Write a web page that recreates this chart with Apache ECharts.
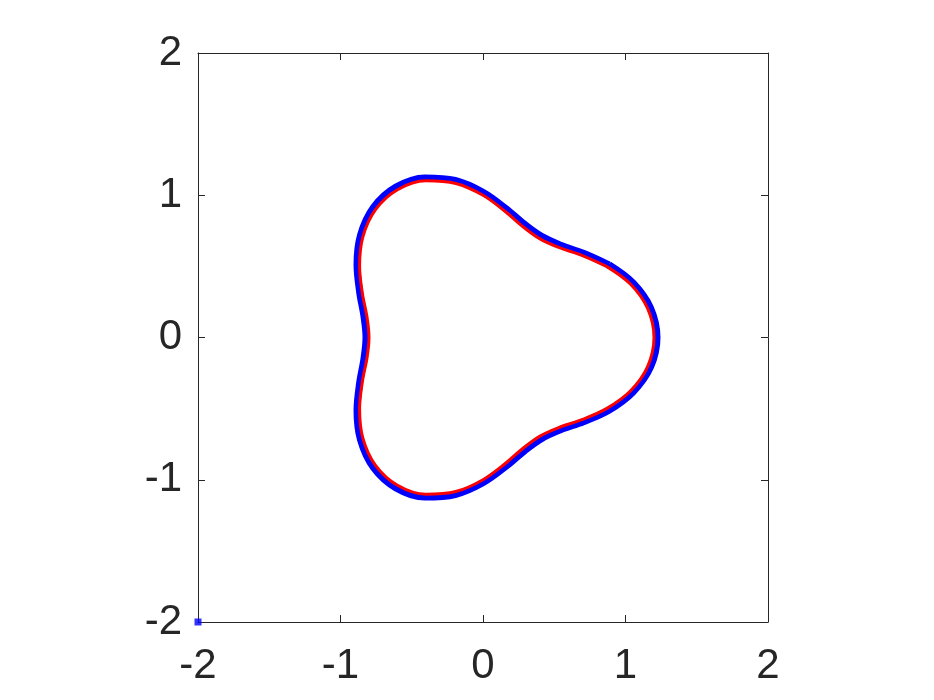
<!DOCTYPE html>
<html>
<head>
<meta charset="utf-8">
<script src="https://cdn.jsdelivr.net/npm/echarts@6/dist/echarts.min.js"></script>
<style>
  html, body { margin: 0; padding: 0; background: #ffffff; }
  #curveChart { width: 934px; height: 700px; }
</style>
</head>
<body>
<div id="curveChart"></div>
<script>
// red contour (every 10 degrees, starting at 30 deg)
const curveX = [0.866, 0.689, 0.531, 0.400, 0.283, 0.156, 0,
  -0.191, -0.401, -0.600, -0.754, -0.843, -0.866, -0.846, -0.814, -0.800,
  -0.814, -0.846, -0.866, -0.843, -0.754, -0.600, -0.401, -0.191, 0,
  0.156, 0.283, 0.400, 0.531, 0.689, 0.866, 1.034, 1.155, 1.2, 1.155, 1.034, 0.866];
const curveY = [0.5, 0.579, 0.633, 0.693, 0.777, 0.886, 1.0,
  1.083, 1.102, 1.039, 0.899, 0.707, 0.5, 0.308, 0.144, 0,
  -0.144, -0.308, -0.5, -0.707, -0.899, -1.039, -1.102, -1.083, -1.0,
  -0.886, -0.777, -0.693, -0.633, -0.579, -0.5, -0.376, -0.204, 0, 0.204, 0.376, 0.5];

// blue band just outside the red one
const bandX = [0.884, 0.705, 0.545, 0.411, 0.290, 0.160, 0,
  -0.195, -0.408, -0.611, -0.768, -0.859, -0.884, -0.865, -0.835, -0.821,
  -0.835, -0.865, -0.884, -0.859, -0.768, -0.611, -0.408, -0.195, 0,
  0.160, 0.290, 0.411, 0.545, 0.705, 0.884, 1.053, 1.176, 1.221, 1.176, 1.053, 0.884];
const bandY = [0.511, 0.592, 0.649, 0.711, 0.797, 0.907, 1.021,
  1.104, 1.122, 1.057, 0.915, 0.721, 0.511, 0.315, 0.147, 0,
  -0.147, -0.315, -0.511, -0.721, -0.915, -1.057, -1.122, -1.104, -1.021,
  -0.907, -0.797, -0.711, -0.649, -0.592, -0.511, -0.383, -0.207, 0, 0.207, 0.383, 0.511];

// lone blue point in the corner
const cornerPoint = [[-2, -2]];

const axisMin = -2;
const axisMax = 2;
const axisStep = 1;

const axisColor = '#262626';

function makeAxis(position, showLabel, margin) {
  return {
    type: 'value',
    position: position,
    min: axisMin,
    max: axisMax,
    interval: axisStep,
    axisLine: { show: true, onZero: false, lineStyle: { color: axisColor, width: 1 } },
    axisTick: { show: true, inside: true, length: 7, lineStyle: { color: axisColor } },
    axisLabel: {
      show: showLabel,
      color: axisColor,
      fontSize: 42,
      fontFamily: 'Liberation Sans, Arial, sans-serif',
      margin: margin
    },
    splitLine: { show: false }
  };
}

const chart = echarts.init(document.getElementById('curveChart'));

const option = {
  animation: false,
  backgroundColor: '#ffffff',
  grid: { left: 198, top: 53, right: 166, bottom: 78, containLabel: false },
  xAxis: [makeAxis('bottom', true, 23), makeAxis('top', false, 8)],
  yAxis: [makeAxis('left', true, 16), makeAxis('right', false, 8)],
  series: [
    {
      name: 'band',
      type: 'line',
      data: bandX.map((x, i) => [x, bandY[i]]),
      showSymbol: false,
      smooth: 0.35,
      lineStyle: { color: '#0000ff', width: 7 },
      z: 2
    },
    {
      name: 'contour',
      type: 'line',
      data: curveX.map((x, i) => [x, curveY[i]]),
      showSymbol: false,
      smooth: 0.35,
      lineStyle: { color: '#ff0000', width: 3 },
      z: 3
    },
    {
      name: 'corner',
      type: 'scatter',
      data: cornerPoint,
      symbol: 'rect',
      symbolSize: 7,
      itemStyle: { color: '#0000ff' },
      clip: false,
      z: 4
    }
  ]
};

chart.setOption(option);
</script>
</body>
</html>
